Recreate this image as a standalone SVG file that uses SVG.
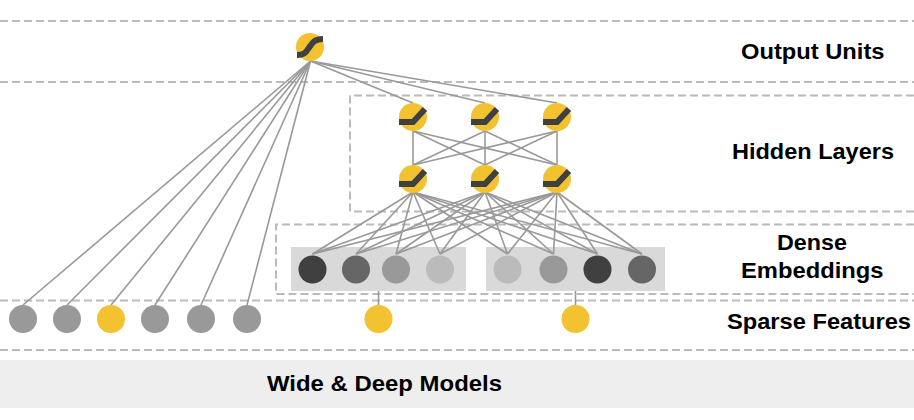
<svg xmlns="http://www.w3.org/2000/svg" width="914" height="420" viewBox="0 0 914 420">
<style>
.dash{fill:none;stroke:#bbbbbb;stroke-width:2;stroke-dasharray:8 4}
.conn{stroke:#999999;stroke-width:1.6;fill:none}
.yel{fill:#f2c230}
.icon{fill:none;stroke:#404040;stroke-width:6}
.lbl{font-family:"Liberation Sans",Arial,sans-serif;font-weight:bold;font-size:22px;fill:#000}
</style>
<rect x="0" y="0" width="914" height="420" fill="#ffffff"/>
<rect x="0" y="360" width="914" height="48" fill="#eeeeee"/>
<g id="bands">
<line class="dash" x1="0" y1="21" x2="914" y2="21"/>
<line class="dash" x1="0" y1="82" x2="914" y2="82"/>
<path class="dash" d="M914,95.5 H350 V211.5 H914"/>
<path class="dash" d="M914,224.5 H276 V294 H914"/>
<line class="dash" x1="0" y1="300.5" x2="914" y2="300.5"/>
<line class="dash" x1="0" y1="350" x2="914" y2="350"/>
</g>
<g id="embedding-boxes">
<rect x="291" y="247" width="175" height="44" fill="#d9d9d9"/>
<rect x="486" y="247" width="179" height="44" fill="#d9d9d9"/>
</g>
<g id="connectors" class="conn">
<line x1="310.5" y1="61" x2="23" y2="305"/>
<line x1="310.5" y1="61" x2="67" y2="305"/>
<line x1="310.5" y1="61" x2="111" y2="305"/>
<line x1="310.5" y1="61" x2="155" y2="305"/>
<line x1="310.5" y1="61" x2="201" y2="305"/>
<line x1="310.5" y1="61" x2="247" y2="305"/>
<line x1="310.5" y1="61" x2="413" y2="103"/>
<line x1="310.5" y1="61" x2="485" y2="103"/>
<line x1="310.5" y1="61" x2="557" y2="103"/>
<line x1="413" y1="131" x2="413" y2="165"/>
<line x1="413" y1="131" x2="485" y2="165"/>
<line x1="413" y1="131" x2="557" y2="165"/>
<line x1="485" y1="131" x2="413" y2="165"/>
<line x1="485" y1="131" x2="485" y2="165"/>
<line x1="485" y1="131" x2="557" y2="165"/>
<line x1="557" y1="131" x2="413" y2="165"/>
<line x1="557" y1="131" x2="485" y2="165"/>
<line x1="557" y1="131" x2="557" y2="165"/>
<line x1="413" y1="192" x2="312.5" y2="254"/>
<line x1="413" y1="192" x2="356" y2="254"/>
<line x1="413" y1="192" x2="396" y2="254"/>
<line x1="413" y1="192" x2="440" y2="254"/>
<line x1="413" y1="192" x2="507.5" y2="254"/>
<line x1="413" y1="192" x2="553.5" y2="254"/>
<line x1="413" y1="192" x2="597.5" y2="254"/>
<line x1="413" y1="192" x2="642" y2="254"/>
<line x1="485" y1="192" x2="312.5" y2="254"/>
<line x1="485" y1="192" x2="356" y2="254"/>
<line x1="485" y1="192" x2="396" y2="254"/>
<line x1="485" y1="192" x2="440" y2="254"/>
<line x1="485" y1="192" x2="507.5" y2="254"/>
<line x1="485" y1="192" x2="553.5" y2="254"/>
<line x1="485" y1="192" x2="597.5" y2="254"/>
<line x1="485" y1="192" x2="642" y2="254"/>
<line x1="557" y1="192" x2="312.5" y2="254"/>
<line x1="557" y1="192" x2="356" y2="254"/>
<line x1="557" y1="192" x2="396" y2="254"/>
<line x1="557" y1="192" x2="440" y2="254"/>
<line x1="557" y1="192" x2="507.5" y2="254"/>
<line x1="557" y1="192" x2="553.5" y2="254"/>
<line x1="557" y1="192" x2="597.5" y2="254"/>
<line x1="557" y1="192" x2="642" y2="254"/>
<line x1="378.5" y1="291" x2="378.5" y2="305"/>
<line x1="575.5" y1="291" x2="575.5" y2="305"/>
</g>
<g id="output-unit">
<circle class="yel" cx="310" cy="47" r="14"/>
<path class="icon" d="M297,55 C305,55 306,52 309.5,47 C313,42 315,39 323,39"/>
</g>
<g id="hidden-1-1"><circle class="yel" cx="413" cy="117" r="14"/><path class="icon" d="M399,122 H413 L425,109"/></g>
<g id="hidden-1-2"><circle class="yel" cx="485" cy="117" r="14"/><path class="icon" d="M471,122 H485 L497,109"/></g>
<g id="hidden-1-3"><circle class="yel" cx="557" cy="117" r="14"/><path class="icon" d="M543,122 H557 L569,109"/></g>
<g id="hidden-2-1"><circle class="yel" cx="413" cy="179" r="14"/><path class="icon" d="M399,184 H413 L425,171"/></g>
<g id="hidden-2-2"><circle class="yel" cx="485" cy="179" r="14"/><path class="icon" d="M471,184 H485 L497,171"/></g>
<g id="hidden-2-3"><circle class="yel" cx="557" cy="179" r="14"/><path class="icon" d="M543,184 H557 L569,171"/></g>
<g id="emb-1"><circle cx="312.5" cy="269.5" r="14" fill="#404040"/></g>
<g id="emb-2"><circle cx="356" cy="269.5" r="14" fill="#666666"/></g>
<g id="emb-3"><circle cx="396" cy="269.5" r="14" fill="#999999"/></g>
<g id="emb-4"><circle cx="440" cy="269.5" r="14" fill="#bbbbbb"/></g>
<g id="emb-5"><circle cx="507.5" cy="269.5" r="14" fill="#bbbbbb"/></g>
<g id="emb-6"><circle cx="553.5" cy="269.5" r="14" fill="#999999"/></g>
<g id="emb-7"><circle cx="597.5" cy="269.5" r="14" fill="#404040"/></g>
<g id="emb-8"><circle cx="642" cy="269.5" r="14" fill="#666666"/></g>
<g id="sparse-1"><circle cx="23" cy="319" r="14" fill="#999999"/></g>
<g id="sparse-2"><circle cx="67" cy="319" r="14" fill="#999999"/></g>
<g id="sparse-3"><circle cx="111" cy="319" r="14" class="yel"/></g>
<g id="sparse-4"><circle cx="155" cy="319" r="14" fill="#999999"/></g>
<g id="sparse-5"><circle cx="201" cy="319" r="14" fill="#999999"/></g>
<g id="sparse-6"><circle cx="247" cy="319" r="14" fill="#999999"/></g>
<g id="sparse-7"><circle cx="378.5" cy="319" r="14" class="yel"/></g>
<g id="sparse-8"><circle cx="575.5" cy="319" r="14" class="yel"/></g>
<g id="labels">
<text class="lbl" x="741" y="58.5" textLength="143.5" lengthAdjust="spacingAndGlyphs">Output Units</text>
<text class="lbl" x="732" y="158.5" textLength="162" lengthAdjust="spacingAndGlyphs">Hidden Layers</text>
<text class="lbl" x="777" y="249.5" textLength="70" lengthAdjust="spacingAndGlyphs">Dense</text>
<text class="lbl" x="741" y="277.5" textLength="142.5" lengthAdjust="spacingAndGlyphs">Embeddings</text>
<text class="lbl" x="727" y="329" textLength="184" lengthAdjust="spacingAndGlyphs">Sparse Features</text>
<text class="lbl" x="267" y="390.5" textLength="235" lengthAdjust="spacingAndGlyphs">Wide &amp; Deep Models</text>
</g>
</svg>
